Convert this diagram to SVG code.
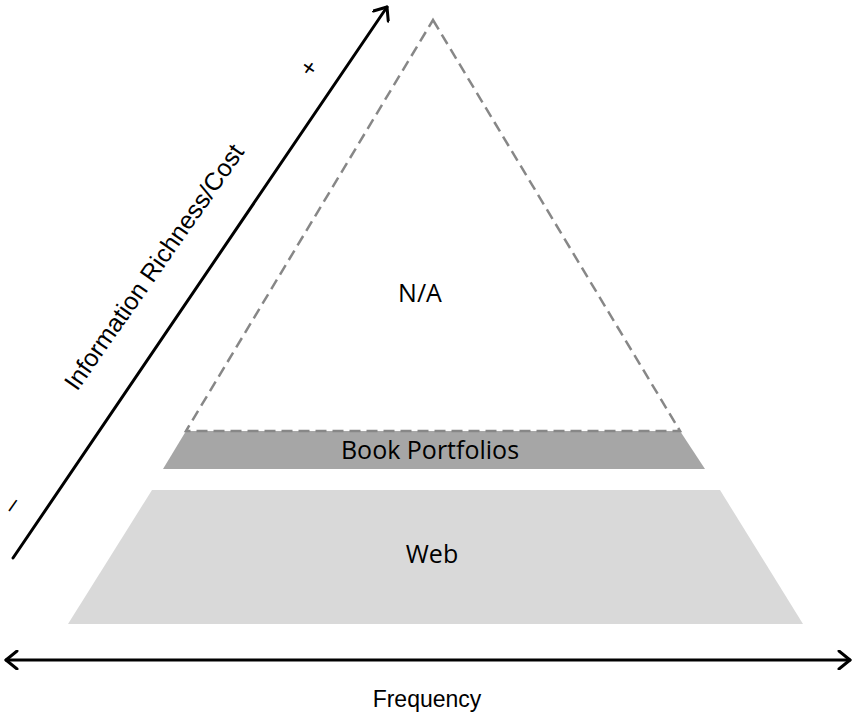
<svg xmlns="http://www.w3.org/2000/svg" width="855" height="713" viewBox="0 0 855 713">
<style>
.lbl{font-family:"Open Sans","Noto Sans",sans-serif;font-size:25px;fill:#000;text-anchor:middle}
.ax{font-family:"Liberation Sans",Arial,sans-serif;font-size:25px;fill:#000;text-anchor:middle}
.axl{stroke:#000;stroke-width:3;fill:none;stroke-linecap:round;stroke-linejoin:round}
</style>
<defs>
<marker id="chev" viewBox="0 0 20 20" refX="17" refY="10" markerWidth="20" markerHeight="20" markerUnits="userSpaceOnUse" orient="auto-start-reverse">
<path d="M6,1 L17,10 L6,19" fill="none" stroke="#000" stroke-width="3" stroke-linecap="round" stroke-linejoin="round"/>
</marker>
</defs>
<rect width="855" height="713" fill="#fff"/>
<g id="web">
<polygon points="152,490 720,490 803,624 68,624" fill="#d9d9d9"/>
<text class="lbl" x="432" y="563">Web</text>
</g>
<g id="book-portfolios">
<polygon points="186,431 680,431 705,469 163,469" fill="#a6a6a6"/>
<text class="lbl" x="430" y="459">Book Portfolios</text>
</g>
<g id="na">
<polygon points="433,20 680,431 186,431" fill="none" stroke="#878787" stroke-width="2.5" stroke-dasharray="11,6"/>
<text class="lbl" x="420" y="302">N/A</text>
</g>
<g id="connectors">
<line class="axl" x1="13" y1="558" x2="387" y2="7" marker-end="url(#chev)"/>
<line class="axl" x1="6" y1="660" x2="850" y2="660" marker-start="url(#chev)" marker-end="url(#chev)"/>
</g>
<g id="axis-labels">
<text class="ax" transform="translate(161,272) rotate(-55)">Information Richness/Cost</text>
<text class="ax" style="font-size:23px" x="427" y="707">Frequency</text>
<text class="ax" style="font-size:24px" transform="translate(309,68) rotate(-55)" y="8">+</text>
<text class="ax" style="font-size:24px" transform="translate(12,505) rotate(-55)" y="7">–</text>
</g>
</svg>
